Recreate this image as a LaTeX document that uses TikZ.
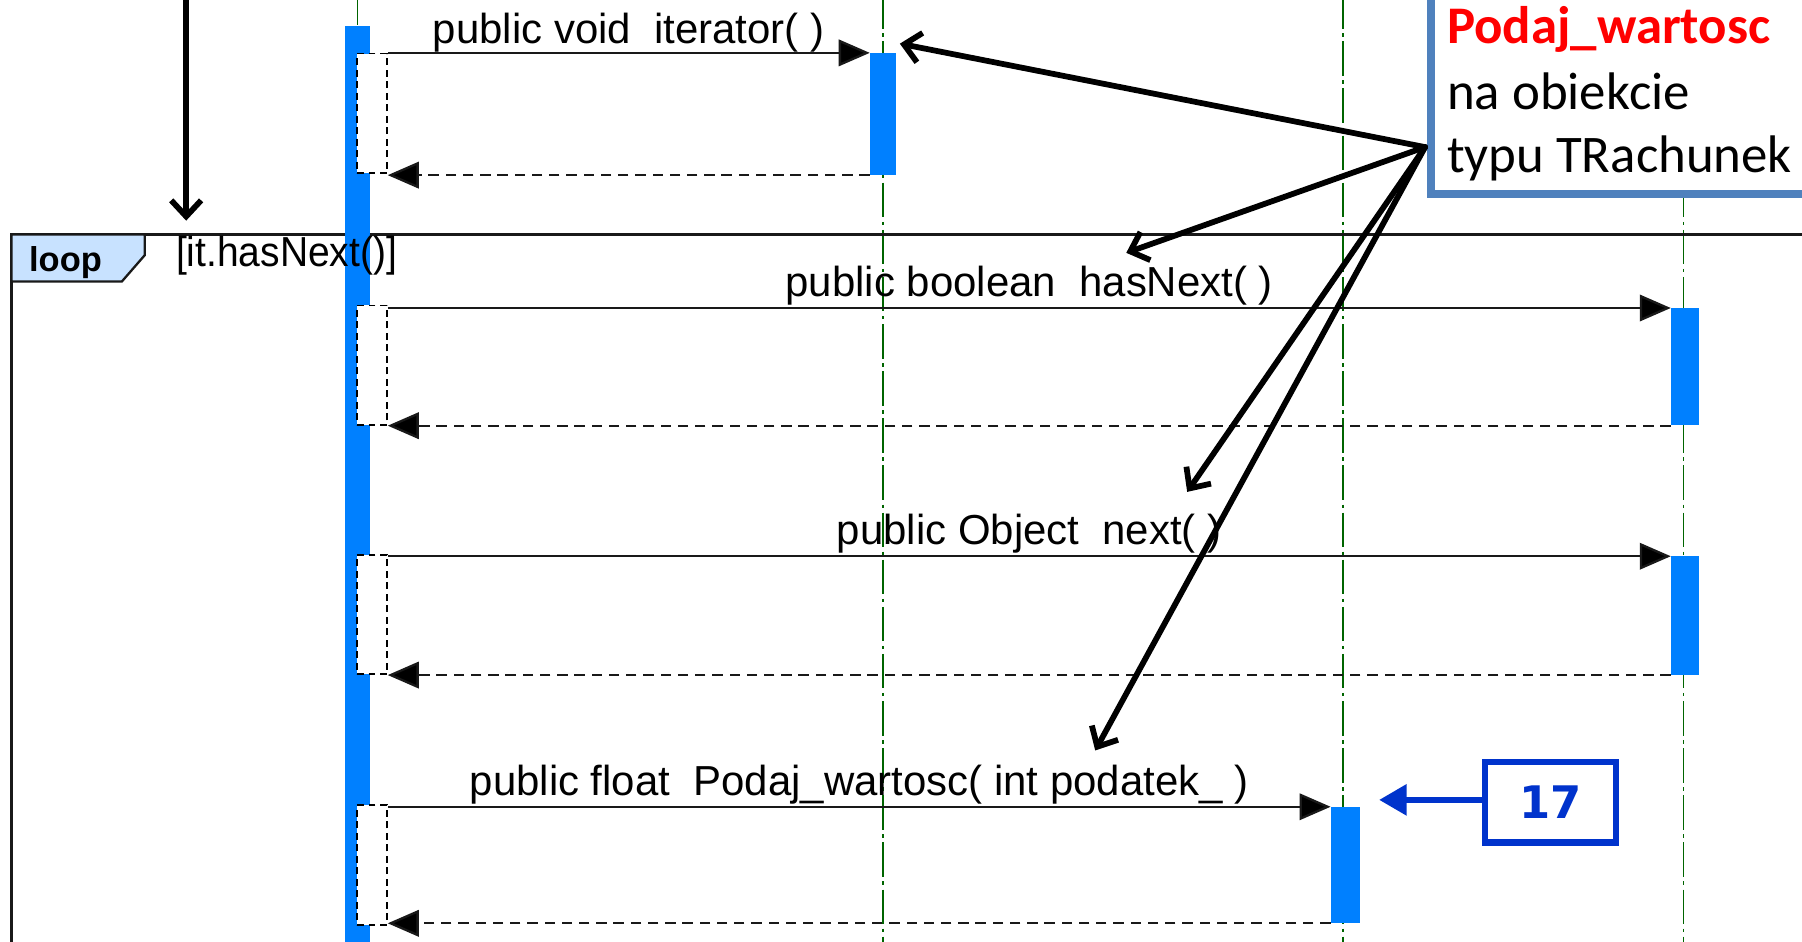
\documentclass[tikz,border=0pt]{standalone}
\usepackage{fontspec}
\setmainfont{Liberation Sans}
\newfontfamily\calib{Carlito}
\newfontfamily\verd{DejaVu Sans}
\usetikzlibrary{arrows.meta,calc}
\definecolor{actblue}{RGB}{0,128,255}
\definecolor{lifegreen}{RGB}{0,100,0}
\definecolor{tabblue}{RGB}{200,226,255}
\definecolor{noteblue}{RGB}{79,129,189}
\definecolor{numblue}{RGB}{0,51,204}
\definecolor{linegray}{RGB}{25,25,25}
\begin{document}
\begin{tikzpicture}[x=1pt,y=-1pt,
 lifeline/.style={draw=lifegreen, line width=1.3pt, dash pattern=on 30pt off 4pt on 3pt off 4pt},
 bar/.style={rectangle, fill=actblue, draw=none, inner sep=0pt, minimum width=24pt, anchor=north},
 selfbox/.style={rectangle, fill=white, draw=black, line width=1.4pt, dash pattern=on 6pt off 4pt, inner sep=0pt, minimum width=26pt, minimum height=104pt, anchor=north west},
 call/.style={draw=linegray, line width=2pt, -{Triangle[length=27pt,width=23pt,fill=black]}},
 ret/.style={draw=linegray, line width=2pt, dash pattern=on 9pt off 6pt, -{Triangle[length=27pt,width=23pt,fill=black]}},
 msg/.style={font=\fontsize{36.5pt}{40pt}\selectfont, anchor=base, inner sep=0pt},
 annot/.style={draw=black, line width=5pt, line cap=round, -{Straight Barb[length=14pt,width=26pt]}},
 numarrow/.style={draw=numblue, line width=5.5pt, -{Triangle[length=24pt,width=26pt]}},
 notetxt/.style={anchor=base west, inner sep=0pt, font=\calib\fontsize{46pt}{56pt}\selectfont}
]
\useasboundingbox (0,0) rectangle (1568,819);
\clip (0,0) rectangle (1568,819);
\fill[white] (0,0) rectangle (1568,819);

% lifelines
\coordinate (l0t) at (311,-5);
\coordinate (l1t) at (768.5,-5); \coordinate (l1b) at (768.5,830);
\coordinate (l2t) at (1168.5,-5); \coordinate (l2b) at (1168.5,830);
\coordinate (l3t) at (1465,-5); \coordinate (l3b) at (1465,830);
\draw[lifeline] (l1t) -- (l1b);
\draw[lifeline] (l2t) -- (l2b);
\draw[lifeline] (l3t) -- (l3b);

% loop frame
\draw[draw=linegray, line width=2pt] (10,830) -- (10,204) -- (1580,204);
\draw[draw=linegray, line width=2pt, fill=tabblue] (10,204) -- (126,204) -- (126,222) -- (106,245) -- (10,245) -- cycle;
\node[anchor=base, inner sep=0pt, font=\bfseries\fontsize{30pt}{34pt}\selectfont] (looplbl) at (57,236) {loop};

% main activation
\node[bar, minimum width=22pt, minimum height=820pt] (mainbar) at (311,22) {};
\draw[lifeline] (l0t) -- (mainbar.north);
\node[anchor=base west, inner sep=0pt, xscale=0.93, font=\fontsize{36.5pt}{40pt}\selectfont] (guard) at (153,232) {[it.hasNext()]};

% target activations
\node[bar, minimum width=23pt, minimum height=106pt] (b1) at (768.5,46) {};
\node[bar, minimum height=102pt] (b2) at (1466,268) {};
\node[bar, minimum height=103pt] (b3) at (1466,484) {};
\node[bar, minimum width=25pt, minimum height=101pt] (b4) at (1170.5,702) {};

% self boxes
\node[selfbox] (s1) at (310,46) {};
\node[selfbox] (s2) at (310,265) {};
\node[selfbox] (s3) at (310,482) {};
\node[selfbox] (s4) at (310,700) {};

% messages
\draw[call] (s1.east |- b1.north west) -- (b1.north west) node[msg, midway, yshift=8pt] {public void~~iterator(~)};
\draw[ret] (b1.south west) -- (s1.east |- b1.south west);
\draw[call] (s2.east |- b2.north west) -- (b2.north west) node[msg, midway, yshift=10pt] {public boolean~~hasNext(~)};
\draw[ret] (b2.south west) -- (s2.east |- b2.south west);
\draw[call] (s3.east |- b3.north west) -- (b3.north west) node[msg, midway, yshift=10pt] {public Object~~next(~)};
\draw[ret] (b3.south west) -- (s3.east |- b3.south west);
\draw[call] (s4.east |- b4.north west) -- (b4.north west) node[msg, midway, yshift=10pt] {public float~~Podaj\_wartosc(~int podatek\_~)};
\draw[ret] (b4.south west) -- (s4.east |- b4.south west);

% note
\node[rectangle, draw=noteblue, line width=7pt, fill=white, minimum width=360pt, minimum height=220pt, anchor=south west, inner sep=0pt] (note) at (1242,172) {};
\node[notetxt, font=\calib\bfseries\fontsize{46pt}{56pt}\selectfont, text=red] (nt1) at (1259,38) {Podaj\_wartosc};
\node[notetxt] (nt2) at (1259,95) {na obiekcie};
\node[notetxt] (nt3) at (1259,150) {typu TRachunek};

% annotation arrows
\coordinate (nsrc) at (1240,128);
\coordinate (a1) at (783,38);
\coordinate (a2) at (980,220);
\coordinate (a3) at (1033,428);
\coordinate (a4) at (953,653);
\draw[annot] (nsrc) -- (a1);
\draw[annot] (nsrc) -- (a2);
\draw[annot] (nsrc) -- (a3);
\draw[annot] (nsrc) -- (a4);

% top arrow
\coordinate (tt) at (162,-5);
\coordinate (tb) at (162,192);
\draw[annot] (tt) -- (tb);

% 17 box
\node[rectangle, draw=numblue, line width=5.5pt, fill=white, minimum width=114pt, minimum height=70pt, inner sep=0pt, text=numblue, font=\verd\bfseries\fontsize{39pt}{42pt}\selectfont] (n17) at (1349,698) {17};
\coordinate (t17) at (1200,696);
\draw[numarrow] (n17.west |- t17) -- (t17);
\end{tikzpicture}
\end{document}
